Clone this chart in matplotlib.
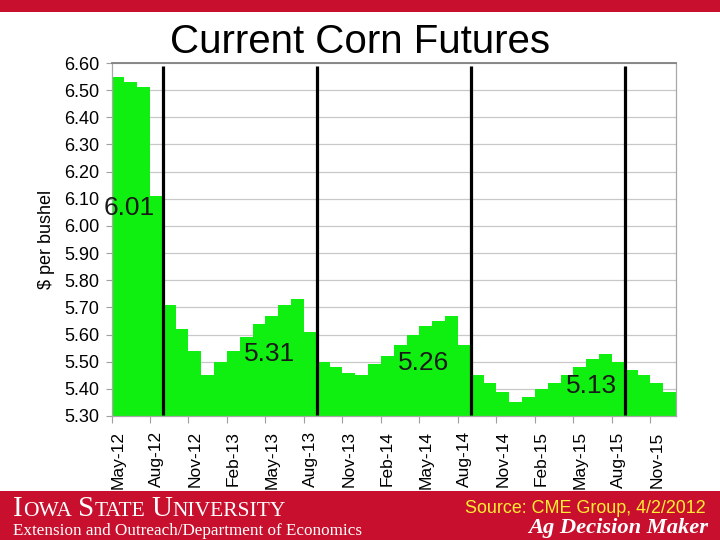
import matplotlib
matplotlib.use("Agg")
import matplotlib.pyplot as plt
from matplotlib.patches import Rectangle

# ---------------- data ----------------
months = ["May-12", "Jun-12", "Jul-12", "Aug-12", "Sep-12", "Oct-12", "Nov-12", "Dec-12",
          "Jan-13", "Feb-13", "Mar-13", "Apr-13", "May-13", "Jun-13", "Jul-13", "Aug-13",
          "Sep-13", "Oct-13", "Nov-13", "Dec-13", "Jan-14", "Feb-14", "Mar-14", "Apr-14",
          "May-14", "Jun-14", "Jul-14", "Aug-14", "Sep-14", "Oct-14", "Nov-14", "Dec-14",
          "Jan-15", "Feb-15", "Mar-15", "Apr-15", "May-15", "Jun-15", "Jul-15", "Aug-15",
          "Sep-15", "Oct-15", "Nov-15", "Dec-15"]
prices = [6.55, 6.53, 6.51, 6.11, 5.71, 5.62, 5.54, 5.45,
          5.50, 5.54, 5.59, 5.64, 5.67, 5.71, 5.73, 5.61,
          5.50, 5.48, 5.46, 5.45, 5.49, 5.52, 5.56, 5.60,
          5.63, 5.65, 5.67, 5.56, 5.45, 5.42, 5.39, 5.35,
          5.37, 5.40, 5.42, 5.45, 5.48, 5.51, 5.53, 5.50,
          5.47, 5.45, 5.42, 5.39]
tick_labels = ["May-12", "Aug-12", "Nov-12", "Feb-13", "May-13", "Aug-13", "Nov-13",
               "Feb-14", "May-14", "Aug-14", "Nov-14", "Feb-15", "May-15", "Aug-15", "Nov-15"]
year_end_months = ["Aug-12", "Aug-13", "Aug-14", "Aug-15"]
avg_labels = ["6.01", "5.31", "5.26", "5.13"]
y_ticks = [5.30, 5.40, 5.50, 5.60, 5.70, 5.80, 5.90, 6.00, 6.10, 6.20, 6.30, 6.40, 6.50, 6.60]

# ---------------- figure ----------------
W, H = 720, 540
fig = plt.figure(figsize=(7.2, 5.4), dpi=100)
plt.rcParams['font.family'] = ['Liberation Sans', 'DejaVu Sans']

def fx(px):
    return px / W

def fy(py):
    return 1 - py / H

# red bands
fig.patches.append(Rectangle((0, fy(12)), 1, 12 / H, transform=fig.transFigure,
                             facecolor='#C8102E', edgecolor='none', zorder=0))
fig.patches.append(Rectangle((0, 0), 1, 49 / H, transform=fig.transFigure,
                             facecolor='#C8102E', edgecolor='none', zorder=0))

ax = fig.add_axes([fx(111.5), fy(416), fx(676) - fx(111.5), fy(63) - fy(416)])

x = list(range(len(months)))
ax.bar(x, prices, width=1.0, color='#10F010', edgecolor='none', zorder=2)

ax.set_xlim(-0.5, len(months) - 0.5)
ax.set_ylim(y_ticks[0], y_ticks[-1])

# year-break vertical lines
for m in year_end_months:
    xb = months.index(m) + 0.5
    ax.plot([xb, xb], [y_ticks[0] + 0.005, y_ticks[-1] - 0.011], color='black', lw=2.3,
            zorder=4, solid_capstyle='butt')

# average labels, placed within each marketing year
label_pos = [(0.88, 6.066), (11.78, 5.530), (23.81, 5.497), (36.90, 5.410)]
for txt, (lx, ly) in zip(avg_labels, label_pos):
    ax.text(lx, ly, txt, fontsize=19, ha='center', va='center', color='#1a1a1a',
            zorder=5, clip_on=False)

# y axis
ax.set_yticks(y_ticks)
ax.set_yticklabels([f"{v:.2f}" for v in y_ticks], fontsize=13)
ax.yaxis.grid(True, color='#C8C8C8', lw=0.9)
ax.set_axisbelow(True)
ax.tick_params(axis='y', length=4, width=0.8, color='#A0A0A0', pad=5)
ax.set_ylabel("$ per bushel", fontsize=13, labelpad=6)

# x axis: labels at month centres, tick marks on boundaries
tick_pos = [months.index(t) for t in tick_labels]
ax.set_xticks(tick_pos)
ax.set_xticklabels(tick_labels, rotation=90, fontsize=12.5)
ax.tick_params(axis='x', which='major', length=0, pad=11)
ax.set_xticks([p - 0.5 for p in tick_pos], minor=True)
ax.tick_params(axis='x', which='minor', length=5, width=0.8, color='#A0A0A0')

for s in ['left', 'right', 'bottom']:
    ax.spines[s].set_color('#A8A8A8')
    ax.spines[s].set_linewidth(0.9)
ax.spines['top'].set_color('#808080')
ax.spines['top'].set_linewidth(1.3)

# title
fig.text(fx(360), fy(53), "Current Corn Futures", fontsize=29, ha='center',
         va='baseline', color='black')

# ---------------- footer ----------------
r = fig.canvas.get_renderer()
cur = 13.0
base = fy(516)
for wi, word in enumerate(["IOWA", "STATE", "UNIVERSITY"]):
    t = fig.text(fx(cur), base, word[0], fontsize=21, color='white',
                 family=['Liberation Serif', 'DejaVu Serif'], va='baseline')
    cur = t.get_window_extent(r).x1
    t = fig.text(fx(cur), base, word[1:], fontsize=15.5, color='white',
                 family=['Liberation Serif', 'DejaVu Serif'], va='baseline')
    cur = t.get_window_extent(r).x1 + 6.5

fig.text(fx(13), fy(535), "Extension and Outreach/Department of Economics", fontsize=12.3,
         color='white', family=['Liberation Serif', 'DejaVu Serif'], va='baseline')
fig.text(fx(706), fy(513), "Source: CME Group, 4/2/2012", fontsize=12.9,
         color='#FFEE33', ha='right', va='baseline')
fig.text(fx(708), fy(533), "Ag Decision Maker", fontsize=16.2, color='white',
         family=['Liberation Serif', 'DejaVu Serif'], weight='bold', style='italic',
         ha='right', va='baseline')

fig.savefig("out.png", dpi=100)
